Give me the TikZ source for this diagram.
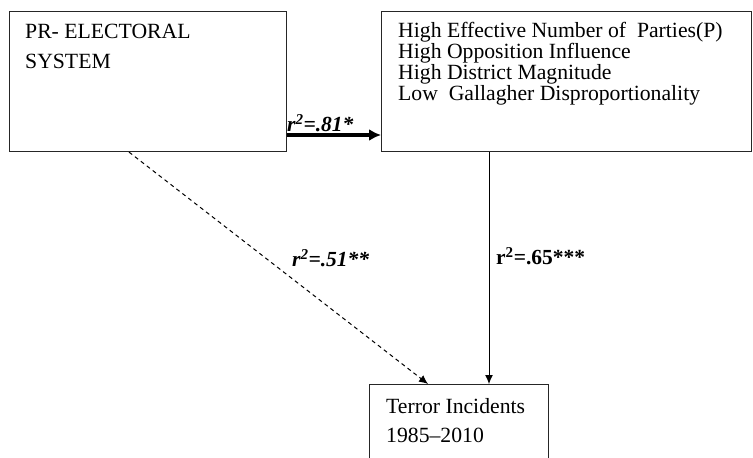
\documentclass[tikz,border=0pt]{standalone}
\usepackage{fontspec}
\setmainfont{Liberation Serif}
\usetikzlibrary{arrows.meta}
\tikzset{
  box/.style={draw=black!85, line width=1.1bp, inner sep=0pt, anchor=north west},
  txt/.style={align=left, anchor=north west, inner sep=0pt},
  lbl/.style={font=\fontsize{21.5bp}{24bp}\selectfont\bfseries, inner sep=0pt, anchor=base west},
  thin arrow/.style={line width=1bp, -{Latex[length=9bp,width=8bp]}},
}
\begin{document}
\begin{tikzpicture}[x=1bp,y=-1bp]
\useasboundingbox (0,0) rectangle (753,458);
\clip (0,0) rectangle (753,458);
% boxes
\node[box, minimum width=277bp, minimum height=140bp] (left) at (9,11) {};
\node[box, minimum width=370bp, minimum height=140bp] (right) at (381,11) {};
\node[box, minimum width=179bp, minimum height=100bp] (bot) at (369,384) {};
% texts
\node[txt, font=\fontsize{21.7bp}{30bp}\selectfont] (ltxt) at (25,23.5) {PR- ELECTORAL\\SYSTEM};
\node[txt, font=\fontsize{21.7bp}{19bp}\selectfont] (rtxt) at (398,22.5) {High Effective Number of\ \ Parties(P)\\High Opposition Influence\\High District Magnitude\\Low\ \ Gallagher Disproportionality};
\node[txt, font=\fontsize{21.7bp}{29bp}\selectfont] (btxt) at (386,398) {Terror Incidents\\1985--2010};
% connectors
\coordinate (a1) at (286,135);
\draw[line width=3.2bp, -{Latex[length=12bp,width=12bp]}] (left.east |- a1) -- (right.west |- a1);
\coordinate (v) at (489,0);
\draw[thin arrow] (right.south -| v) -- (bot.north -| v);
\coordinate (ds) at (129,0);
\coordinate (de) at (428,0);
\draw[thin arrow, dash pattern=on 4bp off 3.5bp] (left.south -| ds) -- (bot.north -| de);
% labels
\node[lbl] (l1) at (287,132) {\itshape r\textsuperscript{2}=.81*};
\node[lbl] (l2) at (292,267) {\itshape r\textsuperscript{2}=.51**};
\node[lbl] (l3) at (496,265) {r\textsuperscript{2}=.65***};
\end{tikzpicture}
\end{document}
